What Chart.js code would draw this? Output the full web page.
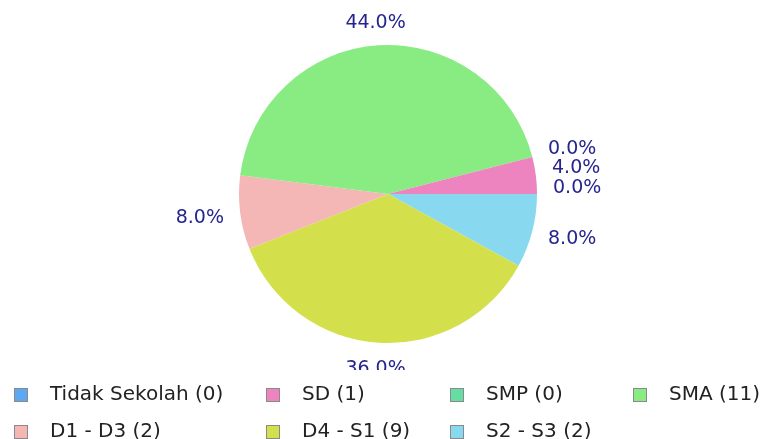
<!DOCTYPE html>
<html>
<head>
<meta charset="utf-8">
<script src="https://cdn.jsdelivr.net/npm/chart.js@4/dist/chart.umd.min.js"></script>
<style>
  html, body { margin: 0; padding: 0; background: #fff; width: 764px; height: 439px; overflow: hidden; }
  #wrap { position: absolute; left: 0; top: 0; width: 764px; height: 370px; }
  #legend { position: absolute; left: 0; top: 0; width: 764px; height: 439px; pointer-events: none; }
  .lbox { position: absolute; width: 12px; height: 12px; border: 1px solid #8a8a8a; }
  .ltxt { position: absolute; font-family: "DejaVu Sans", sans-serif; font-size: 20px; line-height: 23px; color: #222; white-space: pre; }
</style>
</head>
<body>
<div id="wrap"><canvas id="c" width="764" height="370"></canvas></div>
<div id="legend"></div>
<script>
// ---- data ----
const categories = ['Tidak Sekolah', 'SD', 'SMP', 'SMA', 'D1 - D3', 'D4 - S1', 'S2 - S3'];
const counts = [0, 1, 0, 11, 2, 9, 2];
const sliceColors = ['#5ea8f2', '#ee84bf', '#66dda2', '#88ec83', '#f5b6b6', '#d4e04b', '#88d8f0'];

// legend layout (columns / rows)
const legendCols = [14, 266, 450, 633];
const legendRowsBaseline = [400, 437];

// The reference draws slices counter-clockwise from 3 o'clock;
// Chart.js draws clockwise, so feed the data reversed.
const revLabels = categories.slice().reverse();
const revCounts = counts.slice().reverse();
const revColors = sliceColors.slice().reverse();
const total = counts.reduce((a, b) => a + b, 0);

const labelColor = '#25258f';

const pctLabels = {
  id: 'pctLabels',
  afterDatasetsDraw(chart) {
    const ctx = chart.ctx;
    const meta = chart.getDatasetMeta(0);
    const TWO_PI = Math.PI * 2;
    ctx.save();
    ctx.font = '19px "DejaVu Sans"';
    ctx.fillStyle = labelColor;
    ctx.textBaseline = 'alphabetic';
    ctx.textAlign = 'left';
    meta.data.forEach((el, i) => {
      const p = el.getProps(['x', 'y', 'startAngle', 'endAngle', 'outerRadius'], true);
      const m = (p.startAngle + p.endAngle) / 2;
      let a = -m;
      a = ((a % TWO_PI) + TWO_PI) % TWO_PI;
      if (a > TWO_PI - 1e-6 || a < 1e-6) a = 0;
      const r = p.outerRadius + 16;
      const xt = Math.round(p.x + r * Math.cos(a));
      const yt = Math.round(p.y - r * Math.sin(a));
      let dx = 0, dy = 0;
      const q = Math.PI / 4;
      if (a >= 7 * q || a <= q) dx = 0;
      if (a >= q && a <= 3 * q) dx = (a - q) * 2 / Math.PI;
      if (a >= 3 * q && a <= 5 * q) dx = 1;
      if (a >= 5 * q && a <= 7 * q) dx = 1 - (a - 5 * q) * 2 / Math.PI;
      if (a >= 7 * q) dy = (a - 7 * q) * 2 / Math.PI;
      if (a <= q) dy = 1 - a * 2 / Math.PI;
      if (a >= q && a <= 3 * q) dy = 1;
      if (a >= 3 * q && a <= 5 * q) dy = 1 - (a - 3 * q) * 2 / Math.PI;
      if (a >= 5 * q && a <= 7 * q) dy = 0;
      const txt = (revCounts[i] / total * 100).toFixed(1) + '%';
      const w = ctx.measureText(txt).width;
      const h = 16;
      ctx.fillText(txt, xt - dx * w, yt - dy * h + 14.7);
    });
    ctx.restore();
  }
};

new Chart(document.getElementById('c'), {
  type: 'pie',
  data: {
    labels: revLabels,
    datasets: [{
      data: revCounts,
      backgroundColor: revColors,
      borderWidth: 0,
      hoverOffset: 0
    }]
  },
  options: {
    responsive: false,
    animation: false,
    rotation: 90,
    layout: { padding: { left: 239, right: 227, top: 45, bottom: 27 } },
    plugins: {
      legend: { display: false },
      tooltip: { enabled: false }
    }
  },
  plugins: [pctLabels]
});

// ---- legend (4 columns grid, original order) ----
const legendEl = document.getElementById('legend');
categories.forEach((cat, i) => {
  const col = i % 4, row = Math.floor(i / 4);
  const bx = legendCols[col];
  const base = legendRowsBaseline[row];
  const box = document.createElement('div');
  box.className = 'lbox';
  box.style.left = bx + 'px';
  box.style.top = (base - 12) + 'px';
  box.style.background = sliceColors[i];
  legendEl.appendChild(box);
  const t = document.createElement('div');
  t.className = 'ltxt';
  t.style.left = (bx + 36) + 'px';
  t.style.top = (base - 18.5) + 'px';
  t.textContent = cat + ' (' + counts[i] + ')';
  legendEl.appendChild(t);
});
</script>
</body>
</html>
